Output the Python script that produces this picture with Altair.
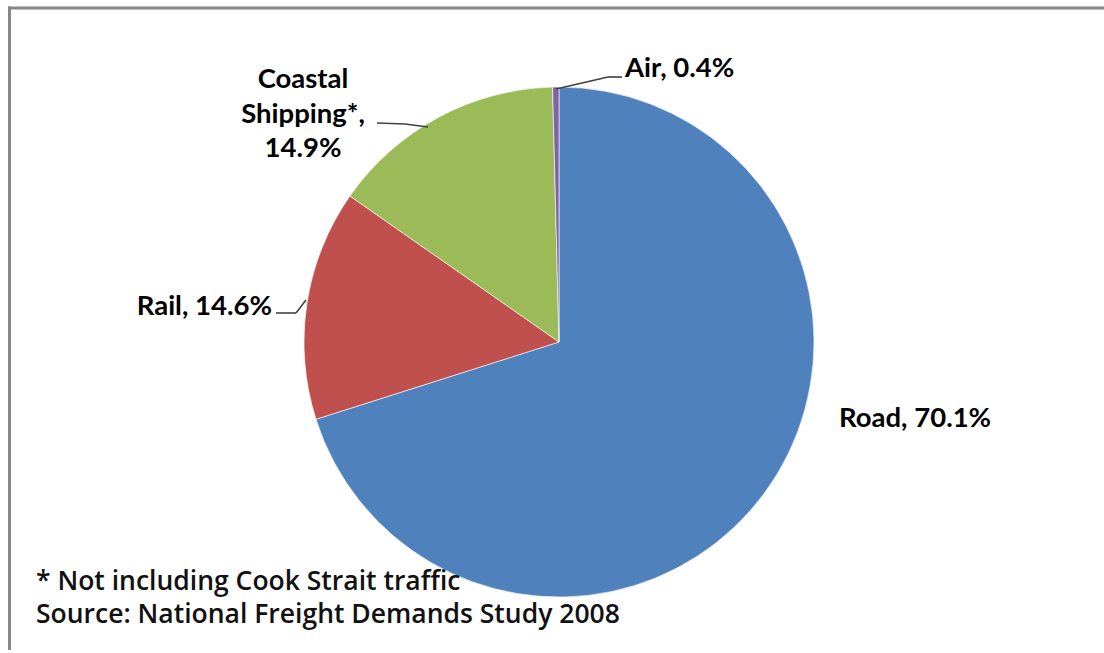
import altair as alt
import pandas as pd

# ---- data ----
CATEGORIES = ["Road", "Rail", "Coastal Shipping*", "Air"]
VALUES = [70.1, 14.6, 14.9, 0.4]
COLORS = ["#4F81BD", "#C0504D", "#9BBB59", "#8064A2"]
FOOTNOTES = ["* Not including Cook Strait traffic",
             "Source: National Freight Demands Study 2008"]

# ---- layout (styling, not data) ----
W, H = 1104, 650
CX, CY, R = 559, 342, 255
FONT = "Lato"
LABEL_SIZE = 27.5
LABEL_POS = {
    "Road": dict(x=839, y=427, align="left"),
    "Rail": dict(x=272, y=315, align="right"),
    "Coastal Shipping*": dict(x=303, y=88, align="center"),
    "Air": dict(x=625, y=77, align="left"),
}
WRAP = {"Coastal Shipping*"}
LEADERS = [
    # (x, y, x2, y2)
    (556, 89, 608, 77), (608, 77, 622, 77),          # Air
    (377, 123, 405, 124), (405, 124, 428, 127),      # Coastal
    (276, 313, 296, 313), (296, 313, 306, 300),      # Rail
]

rows = []
for i, (c, v) in enumerate(zip(CATEGORIES, VALUES)):
    pct = f"{v:.1f}%"
    if c in WRAP:
        label = c.replace(" ", "\n") + ",\n" + pct
    else:
        label = f"{c}, {pct}"
    rows.append({"category": c, "value": v, "order": i, "label": label})
df = pd.DataFrame(rows)

base = alt.Chart(df)

pie = base.mark_arc(stroke="white", strokeWidth=0.6).encode(
    theta=alt.Theta("value:Q", stack=True),
    order=alt.Order("order:Q"),
    color=alt.Color("category:N", scale=alt.Scale(domain=CATEGORIES, range=COLORS), legend=None),
    radius=alt.value(R),
    x=alt.value(CX),
    y=alt.value(CY),
)

layers = [pie]

for cat, pos in LABEL_POS.items():
    layers.append(
        base.transform_filter(alt.datum.category == cat)
        .mark_text(font=FONT, fontSize=LABEL_SIZE, fontWeight="bold", color="#000000",
                   align=pos["align"], baseline="alphabetic", lineBreak="\n",
                   lineHeight=34.5)
        .encode(text="label:N", x=alt.value(pos["x"]), y=alt.value(pos["y"]))
    )

for (x1, y1, x2, y2) in LEADERS:
    layers.append(
        base.transform_filter(alt.datum.order == 0)
        .mark_rule(color="#404040", strokeWidth=1.6)
        .encode(x=alt.value(x1), y=alt.value(y1), x2=alt.value(x2), y2=alt.value(y2))
    )

for j, note in enumerate(FOOTNOTES):
    layers.append(
        alt.Chart(pd.DataFrame({"t": [note]}))
        .mark_text(font="Open Sans", fontSize=26.5, fontWeight=600, color="#111111",
                   align="left", baseline="alphabetic")
        .encode(text="t:N", x=alt.value(36), y=alt.value(590 + 33 * j))
    )

# frame: only the top and left edges are inside the picture
for (x1, y1, x2, y2) in [(8, 8, W + 20, 8), (9.5, 6.5, 9.5, H + 20)]:
    layers.append(
        base.transform_filter(alt.datum.order == 0)
        .mark_rule(color="#888888", strokeWidth=3)
        .encode(x=alt.value(x1), y=alt.value(y1), x2=alt.value(x2), y2=alt.value(y2))
    )

chart = alt.layer(*layers).properties(
    width=W, height=H, autosize=alt.AutoSizeParams(type="none"), padding=0,
    background="white"
).configure_view(stroke="transparent", strokeWidth=0)

chart.save("out.html", embed_options={"renderer": "svg", "actions": False})
